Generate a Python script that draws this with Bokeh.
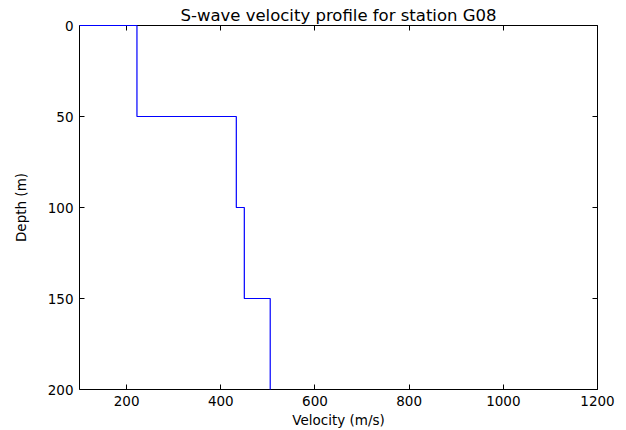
from bokeh.plotting import figure
from bokeh.models import Range1d, LinearAxis, FixedTicker
from bokeh.embed import file_html
from bokeh.resources import INLINE

# Layer data
layer_top = [0, 50, 100, 150]
layer_bottom = [50, 100, 150, 200]
vs = [222, 433, 450, 505]
start_velocity = 100

xs = [start_velocity]
ys = [layer_top[0]]
for t, b, v in zip(layer_top, layer_bottom, vs):
    xs += [v, v]
    ys += [t, b]

x_ticks = [200, 400, 600, 800, 1000, 1200]
y_ticks = [0, 50, 100, 150, 200]

FONT = "DejaVu Sans"

p = figure(width=626, height=430, output_backend="svg", toolbar_location=None,
           x_range=Range1d(100, 1200), y_range=Range1d(200, 0),
           x_axis_location=None, y_axis_location=None,
           min_border_left=79, min_border_right=29, min_border_top=25, min_border_bottom=41)

p.title.text = "S-wave velocity profile for station G08"
p.title.text_font = FONT
p.title.text_font_size = "16.5px"
p.title.text_font_style = "normal"
p.title.text_color = "black"
p.title.align = "center"
p.title.offset = 0
p.title.standoff = 2

p.grid.visible = False
p.outline_line_color = "black"
p.outline_line_width = 1
p.background_fill_color = "white"
p.border_fill_color = "white"


def style_axis(ax, ticks, labels=True):
    ax.ticker = FixedTicker(ticks=ticks)
    ax.minor_tick_line_color = None
    ax.major_tick_in = 5
    ax.major_tick_out = 0
    ax.major_tick_line_color = "black"
    ax.axis_line_color = None
    ax.major_label_text_font = FONT
    ax.major_label_text_font_size = "13.5px"
    ax.major_label_text_color = "black" if labels else None
    ax.axis_label_text_font = FONT
    ax.axis_label_text_font_size = "13.5px"
    ax.axis_label_text_font_style = "normal"
    ax.axis_label_text_color = "black"
    ax.major_label_standoff = 6


xb = LinearAxis(axis_label="Velocity (m/s)")
style_axis(xb, x_ticks)
xb.axis_label_standoff = 3
p.add_layout(xb, "below")

yl = LinearAxis(axis_label="Depth (m)")
style_axis(yl, y_ticks)
yl.axis_label_standoff = 16
p.add_layout(yl, "left")

xt = LinearAxis()
style_axis(xt, x_ticks, labels=False)
xt.major_label_standoff = 0
p.add_layout(xt, "above")

yr = LinearAxis()
style_axis(yr, y_ticks, labels=False)
yr.major_label_standoff = 0
p.add_layout(yr, "right")

p.line(xs, ys, line_color="#0000ff", line_width=1.2, level="overlay")

open("out.html", "w").write(file_html(p, INLINE))
